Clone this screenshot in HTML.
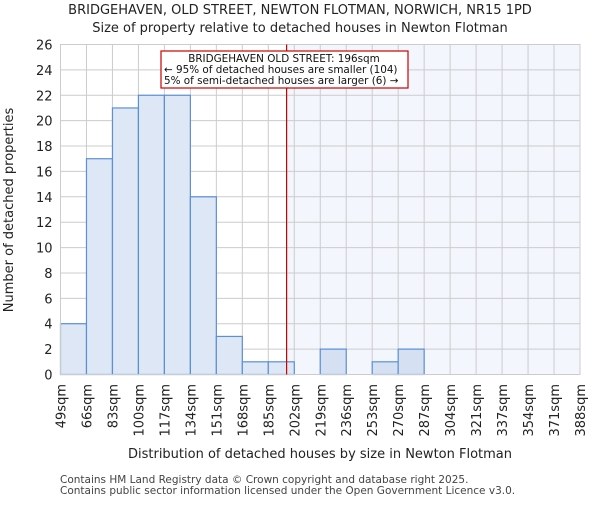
<!DOCTYPE html>
<html><head><meta charset="utf-8"><style>body{margin:0;background:#fff}svg{font-family:"DejaVu Sans","Liberation Sans",sans-serif}</style></head>
<body>
<svg id="c" width="600" height="500"></svg>
<script>
const labels=["49sqm","66sqm","83sqm","100sqm","117sqm","134sqm","151sqm","168sqm","185sqm","202sqm","219sqm","236sqm","253sqm","270sqm","287sqm","304sqm","321sqm","337sqm","354sqm","371sqm","388sqm"];
const edges=[49,66,83,100,117,134,151,168,185,202,219,236,253,270,287,304,321,337,354,371,388];
const counts=[4,17,21,22,22,14,3,1,1,0,2,0,1,2,0,0,0,0,0,0];
const yTicks=[0,2,4,6,8,10,12,14,16,18,20,22,24,26];
const marker=196;
const L=60.5,R=580,T=44.5,B=374.5,ymax=26;
const svg=document.getElementById('c');const NS="http://www.w3.org/2000/svg";
const xi=i=>L+(R-L)*i/counts.length;
const xv=v=>{let i=0;while(i<edges.length-2&&v>edges[i+1])i++;return xi(i+(v-edges[i])/(edges[i+1]-edges[i]));};
const y=v=>B-(B-T)*v/ymax;
function el(t,a,p){const e=document.createElementNS(NS,t);for(const k in a)e.setAttribute(k,a[k]);(p||svg).appendChild(e);return e;}
const mx=xv(marker)+1.5;
let s=el('rect',{x:mx,y:T,width:R-mx,height:B-T,fill:'#f3f6fd'});

yTicks.forEach(t=>{let g=el('line',{x1:L,x2:R,y1:y(t),y2:y(t),stroke:'#cccccc'});
let tx=el('text',{x:L-8,y:y(t)+5,'text-anchor':'end','font-size':13,fill:'#222'});tx.textContent=t;});
labels.forEach((l,i)=>{let g=el('line',{x1:xi(i),x2:xi(i),y1:T,y2:B,stroke:'#cccccc'});
let tx=el('text',{transform:`translate(${xi(i)+5},384) rotate(-90)`,'text-anchor':'end','font-size':13,fill:'#222'});tx.textContent=l;});
counts.forEach((c,i)=>{if(!c)return;let r=el('rect',{x:xi(i),y:y(c),width:xi(i+1)-xi(i),height:B-y(c),fill:xi(i)>=mx?'#d5e1f3':'#dde7f5',stroke:'#5b8fd6','stroke-width':1.2});});
let ax=el('rect',{x:L,y:T,width:R-L,height:B-T,fill:'none',stroke:'#cccccc'});
let ml=el('line',{x1:mx,x2:mx,y1:T,y2:B,stroke:'#cc0000','stroke-width':1.2});
let ab=el('rect',{x:161,y:51,width:247,height:37,fill:'#fff',stroke:'#cc0000','stroke-width':1.2});
["BRIDGEHAVEN OLD STREET: 196sqm","← 95% of detached houses are smaller (104)","5% of semi-detached houses are larger (6) →"].forEach((t,i)=>{let tx=el('text',{x:i?164:284,y:62+i*11,'text-anchor':i?'start':'middle','font-size':10.4,fill:'#111'});tx.textContent=t;});
[["BRIDGEHAVEN, OLD STREET, NEWTON FLOTMAN, NORWICH, NR15 1PD",14,'chart-title'],["Size of property relative to detached houses in Newton Flotman",32,'chart-subtitle']].forEach(([t,yy,n])=>{let tx=el('text',{x:300,y:yy,'text-anchor':'middle','font-size':13,fill:'#222'});tx.textContent=t;});
let xt=el('text',{x:320,y:458,'text-anchor':'middle','font-size':13,fill:'#222'});xt.textContent="Distribution of detached houses by size in Newton Flotman";
let yt=el('text',{transform:'translate(13,210) rotate(-90)','text-anchor':'middle','font-size':13,fill:'#222'});yt.textContent="Number of detached properties";
["Contains HM Land Registry data © Crown copyright and database right 2025.","Contains public sector information licensed under the Open Government Licence v3.0."].forEach((t,i)=>{let tx=el('text',{x:60,y:483+i*11,'font-size':10.5,fill:'#444'});tx.textContent=t;});
</script>
</body></html>
